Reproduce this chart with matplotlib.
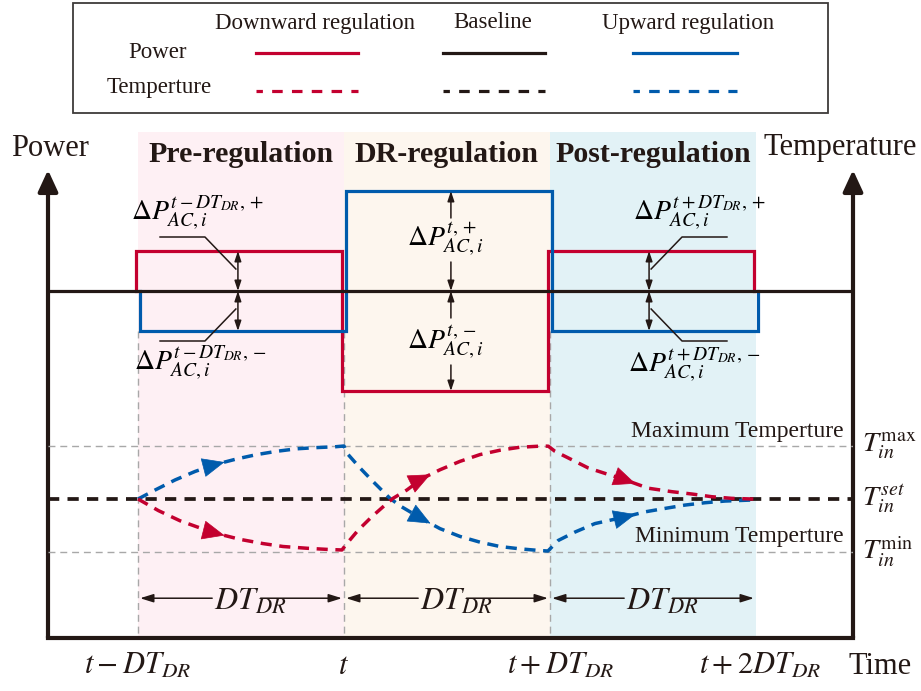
import numpy as np
import matplotlib
matplotlib.use('Agg')
import matplotlib.pyplot as plt
from matplotlib.patches import Rectangle
from matplotlib.lines import Line2D
from matplotlib.transforms import blended_transform_factory, offset_copy

plt.rcParams['font.family'] = ['Liberation Serif', 'DejaVu Serif']
plt.rcParams['mathtext.fontset'] = 'stix'

RED = '#C3002F'
BLUE = '#005BAC'
BLACK = '#231815'
GREY = '#A8A8A8'

# time in units of DT_DR, t - DT_DR at 0
t_edges = [0, 1, 2, 3]
t_labels = [r'$t-DT_{DR}$', r'$t$', r'$t+DT_{DR}$', r'$t+2DT_{DR}$']
phases = ['Pre-regulation', 'DR-regulation', 'Post-regulation']
phase_colors = ['#FEF0F4', '#FDF6EE', '#E2F2F6']

# power deviation from baseline in each phase
p_down = [1.0, -2.5, 1.0]
p_up = [-1.0, 2.5, -1.0]

# indoor temperature relative to the set point (max = 1, min = -1)
temp_up_x = [0, 0.083, 0.18, 0.277, 0.374, 0.479, 0.576, 0.673, 0.77, 0.867, 0.956, 1.0,
             1.013, 1.078, 1.141, 1.223, 1.28, 1.377, 1.466, 1.563, 1.66, 1.757, 1.854, 1.951, 1.99,
             2.04, 2.121, 2.218, 2.364, 2.461, 2.558, 2.655, 2.752, 2.85, 2.979]
temp_up_y = [0, 0.17, 0.36, 0.52, 0.65, 0.756, 0.838, 0.90, 0.947, 0.97, 0.985, 1.0,
             0.87, 0.585, 0.33, 0.013, -0.147, -0.37, -0.558, -0.705, -0.813, -0.895, -0.939, -0.971, -0.98,
             -0.781, -0.623, -0.463, -0.337, -0.242, -0.177, -0.114, -0.07, -0.038, -0.019]
temp_down_x = [0, 0.1, 0.204, 0.29, 0.383, 0.495, 0.607, 0.704, 0.82, 0.93, 0.99,
               1.013, 1.068, 1.134, 1.199, 1.238, 1.305, 1.383, 1.466, 1.563, 1.66, 1.757, 1.854, 1.966,
               1.992, 2.024, 2.105, 2.186, 2.364, 2.477, 2.591, 2.688, 2.785, 2.882, 2.987]
temp_down_y = [0, -0.22, -0.41, -0.53, -0.65, -0.76, -0.84, -0.895, -0.928, -0.952, -0.96,
               -0.844, -0.59, -0.337, -0.114, 0.013, 0.17, 0.394, 0.552, 0.71, 0.838, 0.92, 0.977, 1.0,
               0.996, 0.90, 0.743, 0.585, 0.362, 0.204, 0.139, 0.095, 0.044, 0.013, 0.0]
arrow_x = [0.42, 1.42, 2.415]

W, H = 921, 691
fig = plt.figure(figsize=(W / 100, H / 100), dpi=100)


def fx(px):
    return px / W


def fy(py):
    return 1 - py / H


ax = fig.add_axes([fx(48), fy(638), fx(853) - fx(48), fy(132) - fy(638)])
axt = ax.twinx()
ax.set_xlim(-0.437, 3.471)
ax.set_ylim(-8.675, 3.975)
axt.set_ylim(-2.62, 6.92)
for a in (ax, axt):
    for s in a.spines.values():
        s.set_visible(False)
    a.set_xticks([])
    a.set_yticks([])

# phase shading
for i, name in enumerate(phases):
    ax.axvspan(t_edges[i], t_edges[i + 1], color=phase_colors[i], lw=0, zorder=0)
    ax.text(t_edges[i] + 0.5, fy(154), name, transform=blended_transform_factory(ax.transData, fig.transFigure),
            ha='center', va='center', fontsize=21.5, fontweight='bold', color=BLACK)

# guide lines
for x in t_edges[:3]:
    ax.plot([x, x], [-1, ax.get_ylim()[0]], color=GREY, lw=1.0, ls=(0, (5, 3.5)), zorder=1)
for lvl in (1, -1):
    axt.axhline(lvl, color=GREY, lw=1.0, ls=(0, (5, 3.5)), zorder=1)

# power curves
def step_path(levels):
    xs = np.repeat(t_edges, 2)
    ys = np.concatenate([[0], np.repeat(levels, 2), [0]])
    return xs, ys


xd, yd = step_path(p_down)
xu, yu = step_path(p_up)
ax.plot(xd, yd, color=RED, lw=2.3, zorder=3, solid_joinstyle='miter',
        transform=offset_copy(ax.transData, fig=fig, x=-1.3, y=0, units='points'))
ax.plot(xu, yu, color=BLUE, lw=2.3, zorder=3, solid_joinstyle='miter',
        transform=offset_copy(ax.transData, fig=fig, x=1.3, y=0, units='points'))
ax.axhline(0, color=BLACK, lw=2.3, zorder=4)

# temperature curves
dash = (0, (3.2, 2.2))
axt.axhline(0, color=BLACK, lw=2.7, ls=(0, (3.0, 2.2)), zorder=3)
for xs, ys, c in ((temp_up_x, temp_up_y, BLUE), (temp_down_x, temp_down_y, RED)):
    axt.plot(xs, ys, color=c, lw=2.5, ls=dash, zorder=4)
    for xa in arrow_x:
        tip = (xa, np.interp(xa, xs, ys))
        tail = (xa - 0.02, np.interp(xa - 0.02, xs, ys))
        axt.annotate('', xy=tip, xytext=tail,
                     arrowprops=dict(arrowstyle='-|>,head_length=1.5,head_width=0.65', mutation_scale=10,
                                     lw=0.5, color=c, shrinkA=0, shrinkB=0), zorder=5)

# axes frame with arrows
ax.plot([0, 1], [0, 0], transform=ax.transAxes, color=BLACK, lw=3, clip_on=False, zorder=6,
        solid_capstyle='projecting')
for xa in (0, 1):
    ax.annotate('', xy=(xa, 0.925), xytext=(xa, 0), xycoords='axes fraction',
                arrowprops=dict(arrowstyle='-|>,head_length=1.3,head_width=0.6', mutation_scale=10,
                                lw=3, color=BLACK, shrinkA=0, shrinkB=0), zorder=6)
fig.text(fx(50), fy(148), 'Power', ha='center', va='center', fontsize=22, color=BLACK)
fig.text(fx(840), fy(148), 'Temperature', ha='center', va='center', fontsize=22, color=BLACK)

# time labels
xb = blended_transform_factory(ax.transData, fig.transFigure)
for x, lab, dx in zip(t_edges, t_labels, [0, 0, 0.05, 0.02]):
    ax.text(x + dx, fy(674), lab, transform=xb, ha='center', va='baseline', fontsize=22, color=BLACK)
fig.text(fx(880), fy(674), 'Time', ha='center', va='baseline', fontsize=22, color=BLACK)

# DT_DR spans
yb = -1.87
for x0 in t_edges[:3]:
    axt.annotate('', xy=(x0 + 0.01, yb), xytext=(x0 + 0.36, yb),
                 arrowprops=dict(arrowstyle='-|>,head_length=0.8,head_width=0.25', mutation_scale=10,
                                 lw=1.1, color=BLACK, shrinkA=0, shrinkB=0))
    axt.annotate('', xy=(x0 + 0.99, yb), xytext=(x0 + 0.595, yb),
                 arrowprops=dict(arrowstyle='-|>,head_length=0.8,head_width=0.25', mutation_scale=10,
                                 lw=1.1, color=BLACK, shrinkA=0, shrinkB=0))
    axt.text(x0 + 0.37, -2.08, r'$DT_{DR}$', ha='left', va='baseline', fontsize=23, color=BLACK)

# temperature limits
axt.text(3.427, 1.27, 'Maximum Temperture', ha='right', va='center', fontsize=17, color=BLACK)
axt.text(3.427, -0.70, 'Minimum Temperture', ha='right', va='center', fontsize=17, color=BLACK)
for lvl, lab in ((1, r'$T_{in}^{\mathrm{max}}$'), (0, r'$T_{in}^{set}$'), (-1, r'$T_{in}^{\mathrm{min}}$')):
    axt.text(3.515, lvl, lab, ha='left', va='center', fontsize=20.5, color=BLACK, clip_on=False)

# power deviation annotations
def dbl(x, y0, y1, style='<|-|>'):
    ax.annotate('', xy=(x, y1), xytext=(x, y0),
                arrowprops=dict(arrowstyle=style + ',head_length=0.6,head_width=0.2', mutation_scale=10,
                                lw=1.1, color=BLACK, shrinkA=0, shrinkB=0), zorder=5)


for xa, xl in ((0.485, (0.107, 0.325)), (2.481, (2.859, 2.641))):
    i = 0 if xa < 1 else 2
    dbl(xa, 0, p_down[i])
    dbl(xa, 0, p_up[i])
    xe = xa - 0.01 if xa < 1 else xa + 0.01
    ax.plot([xl[0], xl[1], xe], [1.35, 1.35, 0.55], color=BLACK, lw=1.1, zorder=5)
    ax.plot([xl[0], xl[1], xe], [-1.25, -1.25, -0.45], color=BLACK, lw=1.1, zorder=5)

ax.text(0.29, 1.97, r'$\Delta P_{AC,i}^{t-DT_{DR},+}$', ha='center', va='center', fontsize=20)
ax.text(0.30, -1.80, r'$\Delta P_{AC,i}^{t-DT_{DR},-}$', ha='center', va='center', fontsize=20)
ax.text(2.725, 1.97, r'$\Delta P_{AC,i}^{t+DT_{DR},+}$', ha='center', va='center', fontsize=20)
ax.text(2.70, -1.85, r'$\Delta P_{AC,i}^{t+DT_{DR},-}$', ha='center', va='center', fontsize=20)

xm = 1.519
dbl(xm, 1.825, p_up[1], '-|>')
dbl(xm, 0.725, 0, '-|>')
dbl(xm, -0.675, 0, '-|>')
dbl(xm, -1.85, p_down[1], '-|>')
ax.text(1.49, 1.3, r'$\Delta P_{AC,i}^{t,+}$', ha='center', va='center', fontsize=20)
ax.text(1.49, -1.3, r'$\Delta P_{AC,i}^{t,-}$', ha='center', va='center', fontsize=20)

# legend box
fig.add_artist(Rectangle((fx(73), fy(113)), fx(828) - fx(73), fy(3) - fy(113), transform=fig.transFigure,
                         fill=False, ec='#3E3A39', lw=1.3))
for cx, lab in ((315, 'Downward regulation'), (493, 'Baseline'), (688, 'Upward regulation')):
    fig.text(fx(cx), fy(23), lab, ha='center', va='center', fontsize=16.5, color=BLACK)
fig.text(fx(158), fy(52), 'Power', ha='center', va='center', fontsize=16.5, color=BLACK)
fig.text(fx(159), fy(88), 'Temperture', ha='center', va='center', fontsize=16.5, color=BLACK)
for (x0, x1), c in (((256, 358), RED), ((443, 545), BLACK), ((633, 737), BLUE)):
    fig.add_artist(Line2D([fx(x0), fx(x1)], [fy(53), fy(53)], transform=fig.transFigure, color=c, lw=2.3))
    fig.add_artist(Line2D([fx(x0), fx(x1)], [fy(91), fy(91)], transform=fig.transFigure, color=c, lw=2.3,
                          ls=(1.3, (3.3, 2.9))))

fig.savefig('out.png', dpi=100)
